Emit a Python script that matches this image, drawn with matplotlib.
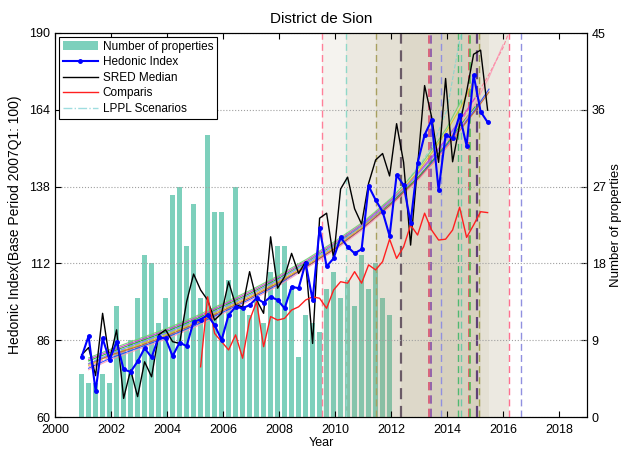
import numpy as np
import matplotlib
matplotlib.use("Agg")
import matplotlib.pyplot as plt
from matplotlib.lines import Line2D
from matplotlib.patches import Patch

plt.rcParams['font.family'] = ['Liberation Sans', 'DejaVu Sans']

# Quarterly observations, plotted at mid-quarter
quarters = 2000.95 + 0.25 * np.arange(59)

hedonic_index = [80.4, 87.4, 68.8, 86.6, 79.3, 85.5, 76.1, 75.3, 78.8, 83.3, 80.2, 87.0, 86.6, 80.6, 85.2, 84.0,
                 92.3, 93.0, 94.5, 91.1, 86.1, 94.5, 97.3, 96.8, 97.9, 100.2, 98.7, 100.7, 99.6, 96.8, 104.1,
                 103.6, 112.2, 99.6, 123.9, 111.0, 113.7, 120.8, 117.6, 115.4, 116.8, 138.2, 133.5, 129.5,
                 121.3, 141.9, 138.5, 125.8, 146.0, 155.5, 160.5, 136.8, 155.5, 154.3, 162.2, 151.8, 175.8,
                 163.4, 159.8]

sred_median = [81.0, 83.5, 74.0, 95.1, 79.3, 89.5, 66.3, 75.9, 66.9, 78.7, 73.6, 87.8, 89.5, 85.5, 84.9, 99.0,
               108.4, 103.0, 99.6, 92.8, 95.1, 105.8, 97.9, 97.3, 109.2, 99.6, 95.1, 121.0, 103.6, 107.5,
               115.4, 108.6, 112.6, 84.9, 127.3, 129.0, 113.7, 137.2, 141.2, 130.5, 125.3, 139.1, 147.0,
               149.2, 141.6, 159.3, 146.2, 118.2, 145.0, 172.2, 161.6, 146.2, 174.6, 146.4, 158.8, 170.1,
               182.8, 184.2, 163.9]

# Comparis asking-price index starts in 2005Q2
comparis_first = 17
comparis = [77.0, 100.7, 88.3, 85.5, 82.7, 87.8, 79.9, 92.8, 99.0, 83.8, 94.0, 92.8, 93.4, 96.2, 97.3, 99.6,
            100.7, 100.2, 96.8, 103.0, 105.8, 105.3, 109.2, 105.3, 111.5, 109.8, 112.6, 120.2, 113.7, 117.6,
            125.0, 121.6, 129.0, 123.3, 119.9, 120.2, 123.3, 131.0, 120.8, 125.0, 129.5, 129.2]

n_properties = [5, 4, 4, 5, 4, 13, 8, 9, 14, 19, 18, 11, 14, 26, 27, 20, 25, 14, 33, 24, 24, 16, 27, 13, 12,
                14, 11, 17, 20, 20, 15, 7, 12, 11, 10, 15, 17, 14, 16, 13, 19, 15, 18, 14, 12]

# LPPL scenario paths
lppl_years = [2001.2, 2002, 2003, 2004, 2005, 2006, 2007, 2008, 2009, 2010, 2011, 2012, 2012.5, 2013,
              2013.5, 2014, 2014.5, 2015, 2015.5, 2016, 2016.2]
nan = np.nan
lppl_scenarios = [
    [77, 80.5, 84, 87.5, 91.5, 96, 100.5, 105.5, 111.5, 117.5, 124.5, 132.5, 137, 141.5, 147, 153, 160, 168, 176, 185, 190],
    [79, 82, 85.5, 89, 93, 97.5, 102, 107, 112.5, 118.5, 125, 132.5, 137, 141.5, 147, 152.5, 159, 165, nan, nan, nan],
    [78.5, 81.5, 85, 88.5, 92.5, 97, 101.5, 106.5, 112.5, 118.5, 125.5, 134, 139, 145, 152, 164, 190, nan, nan, nan, nan],
    [76.5, 80, 83.5, 87, 91, 95.5, 100, 105, 111, 117, 124, 132, 136.5, 141, 146.5, 152, 158, 164, 171, nan, nan],
    [79.5, 82.5, 86, 89.5, 93.5, 98, 102.5, 107.5, 113, 119, 125.5, 133.5, 138, 143, 148.5, 154.5, 161, 168, nan, nan, nan],
    [77.5, 81, 84.5, 88, 92, 96.5, 101, 106, 111.5, 117.5, 124.5, 133, 138, 143.5, 150, 157, 165, 175, nan, nan, nan],
    [78, 81, 84, 87.5, 91.5, 96, 100.5, 105.5, 111, 117, 124, 132, 136.5, 141, 146, 151.5, 157.5, 163.5, 170, nan, nan],
    [80, 83, 86.5, 90, 94, 98.5, 103, 108, 113.5, 119.5, 126, 134, 139, 144.5, 151, 158, 167, nan, nan, nan, nan],
    [76, 79.5, 83, 86.5, 90.5, 95, 99.5, 104.5, 110.5, 116.5, 123.5, 131.5, 136, 140.5, 146, 151.5, 158, 166, 175, 186, nan],
    [78, 81.5, 85, 88.5, 92.5, 97, 101.5, 106.5, 112, 118, 125, 133, 137.5, 142.5, 148, 154, 161, nan, nan, nan, nan],
]
lppl_colors = ['#ff6080', '#20b020', '#70d8d0', '#2040ff', '#d030d0', '#d8c820', '#c06030', '#70d070',
               '#ff90b0', '#8080ff']
lppl_styles = ['--', '-', '--', '-', '-', '-', '-', '-', '-', '-']
lppl_alphas = [0.7, 0.9, 0.7, 0.9, 0.9, 0.9, 0.9, 0.9, 0.8, 0.9]

# Critical times of the scenarios and their confidence windows
crash_dates = [2009.52, 2010.4, 2011.47, 2012.34, 2013.36, 2013.42, 2013.78, 2014.38, 2014.5, 2014.77,
               2014.83, 2015.08, 2015.14, 2016.2, 2016.63]
crash_colors = ['#ff8099', '#90d8c8', '#a8a060', '#6a5a66', '#d85070', '#8850a8', '#9090e0', '#50b870',
                '#70c8a8', '#e85060', '#50b850', '#604078', '#a0a050', '#ff7090', '#9090e0']
crash_widths = [1, 1, 1, 1.6, 1.2, 1.2, 1, 1, 1, 1.2, 1.2, 1.6, 1, 1, 1]
crash_windows = [(2009.52, 2016.2), (2010.4, 2016.2), (2011.47, 2015.5), (2012.34, 2015.2), (2013.39, 2015.1)]

left_ticks = [60, 86, 112, 138, 164, 190]
right_ticks = [0, 9, 18, 27, 36, 45]
year_ticks = list(range(2000, 2019, 2))

fig = plt.figure(figsize=(6.23, 4.51), dpi=100)
ax = fig.add_axes([55 / 623, 1 - 417 / 451, (587 - 55) / 623, (417 - 33) / 451])
ax2 = ax.twinx()
ax.set_zorder(ax2.get_zorder() + 1)
ax.patch.set_visible(False)

# Transaction counts on the right axis
ax2.bar(quarters[:len(n_properties)], n_properties, width=0.18, color='#7dd0bc',
        edgecolor='none', label='Number of properties')
ax2.set_ylim(0, 45)
ax2.set_yticks(right_ticks)
ax2.set_ylabel('Number of properties', fontsize=9.5, labelpad=3)
ax2.tick_params(axis='y', direction='in', labelsize=9, length=4)

# Shaded critical-time windows
for s, e in crash_windows:
    ax.axvspan(s, e, color='#a89a70', alpha=0.11, lw=0, zorder=0.5)
for d, c, w in zip(crash_dates, crash_colors, crash_widths):
    ax.axvline(d, color=c, ls=(0, (5, 3)), lw=w, zorder=1)

for vals, c, st, a in zip(lppl_scenarios, lppl_colors, lppl_styles, lppl_alphas):
    ax.plot(lppl_years, vals, color=c, lw=0.8, ls=st, alpha=a, zorder=2)

ax.plot(quarters, sred_median, color='black', lw=1.0, zorder=3)
ax.plot(quarters[comparis_first:comparis_first + len(comparis)], comparis, color='#ff2020', lw=1.0, zorder=3)
ax.plot(quarters, hedonic_index, color='#0000ff', lw=1.5, marker='.', ms=5, zorder=4)

ax.set_xlim(2000, 2019)
ax.set_ylim(60, 190)
ax.set_xticks(year_ticks)
ax.set_yticks(left_ticks)
ax.tick_params(direction='in', labelsize=9, length=4, top=True, right=False)
ax.tick_params(axis='x', pad=5)
ax.yaxis.grid(True, ls=':', color='#a0a0a0', lw=0.8)
ax.set_xlabel('Year', fontsize=9, labelpad=1)
ax.set_ylabel('Hedonic Index(Base Period 2007Q1: 100)', fontsize=10, labelpad=5)
ax.set_title('District de Sion', fontsize=11, pad=7)

handles = [Patch(facecolor='#7dd0bc', edgecolor='none'),
           Line2D([], [], color='#0000ff', lw=1.5, marker='.', ms=5),
           Line2D([], [], color='black', lw=1.0),
           Line2D([], [], color='#ff2020', lw=1.0),
           Line2D([], [], color='#9fdde0', lw=1.0, ls='-.')]
labels = ['Number of properties', 'Hedonic Index', 'SRED Median', 'Comparis', 'LPPL Scenarios']
leg = ax.legend(handles, labels, loc='upper left', fontsize=8.5, frameon=True, fancybox=False,
                edgecolor='black', framealpha=1, handlelength=3, borderpad=0.35, labelspacing=0.3,
                borderaxespad=0.3, handletextpad=0.4)
leg.get_frame().set_linewidth(0.8)

fig.savefig('out.png', dpi=100)
